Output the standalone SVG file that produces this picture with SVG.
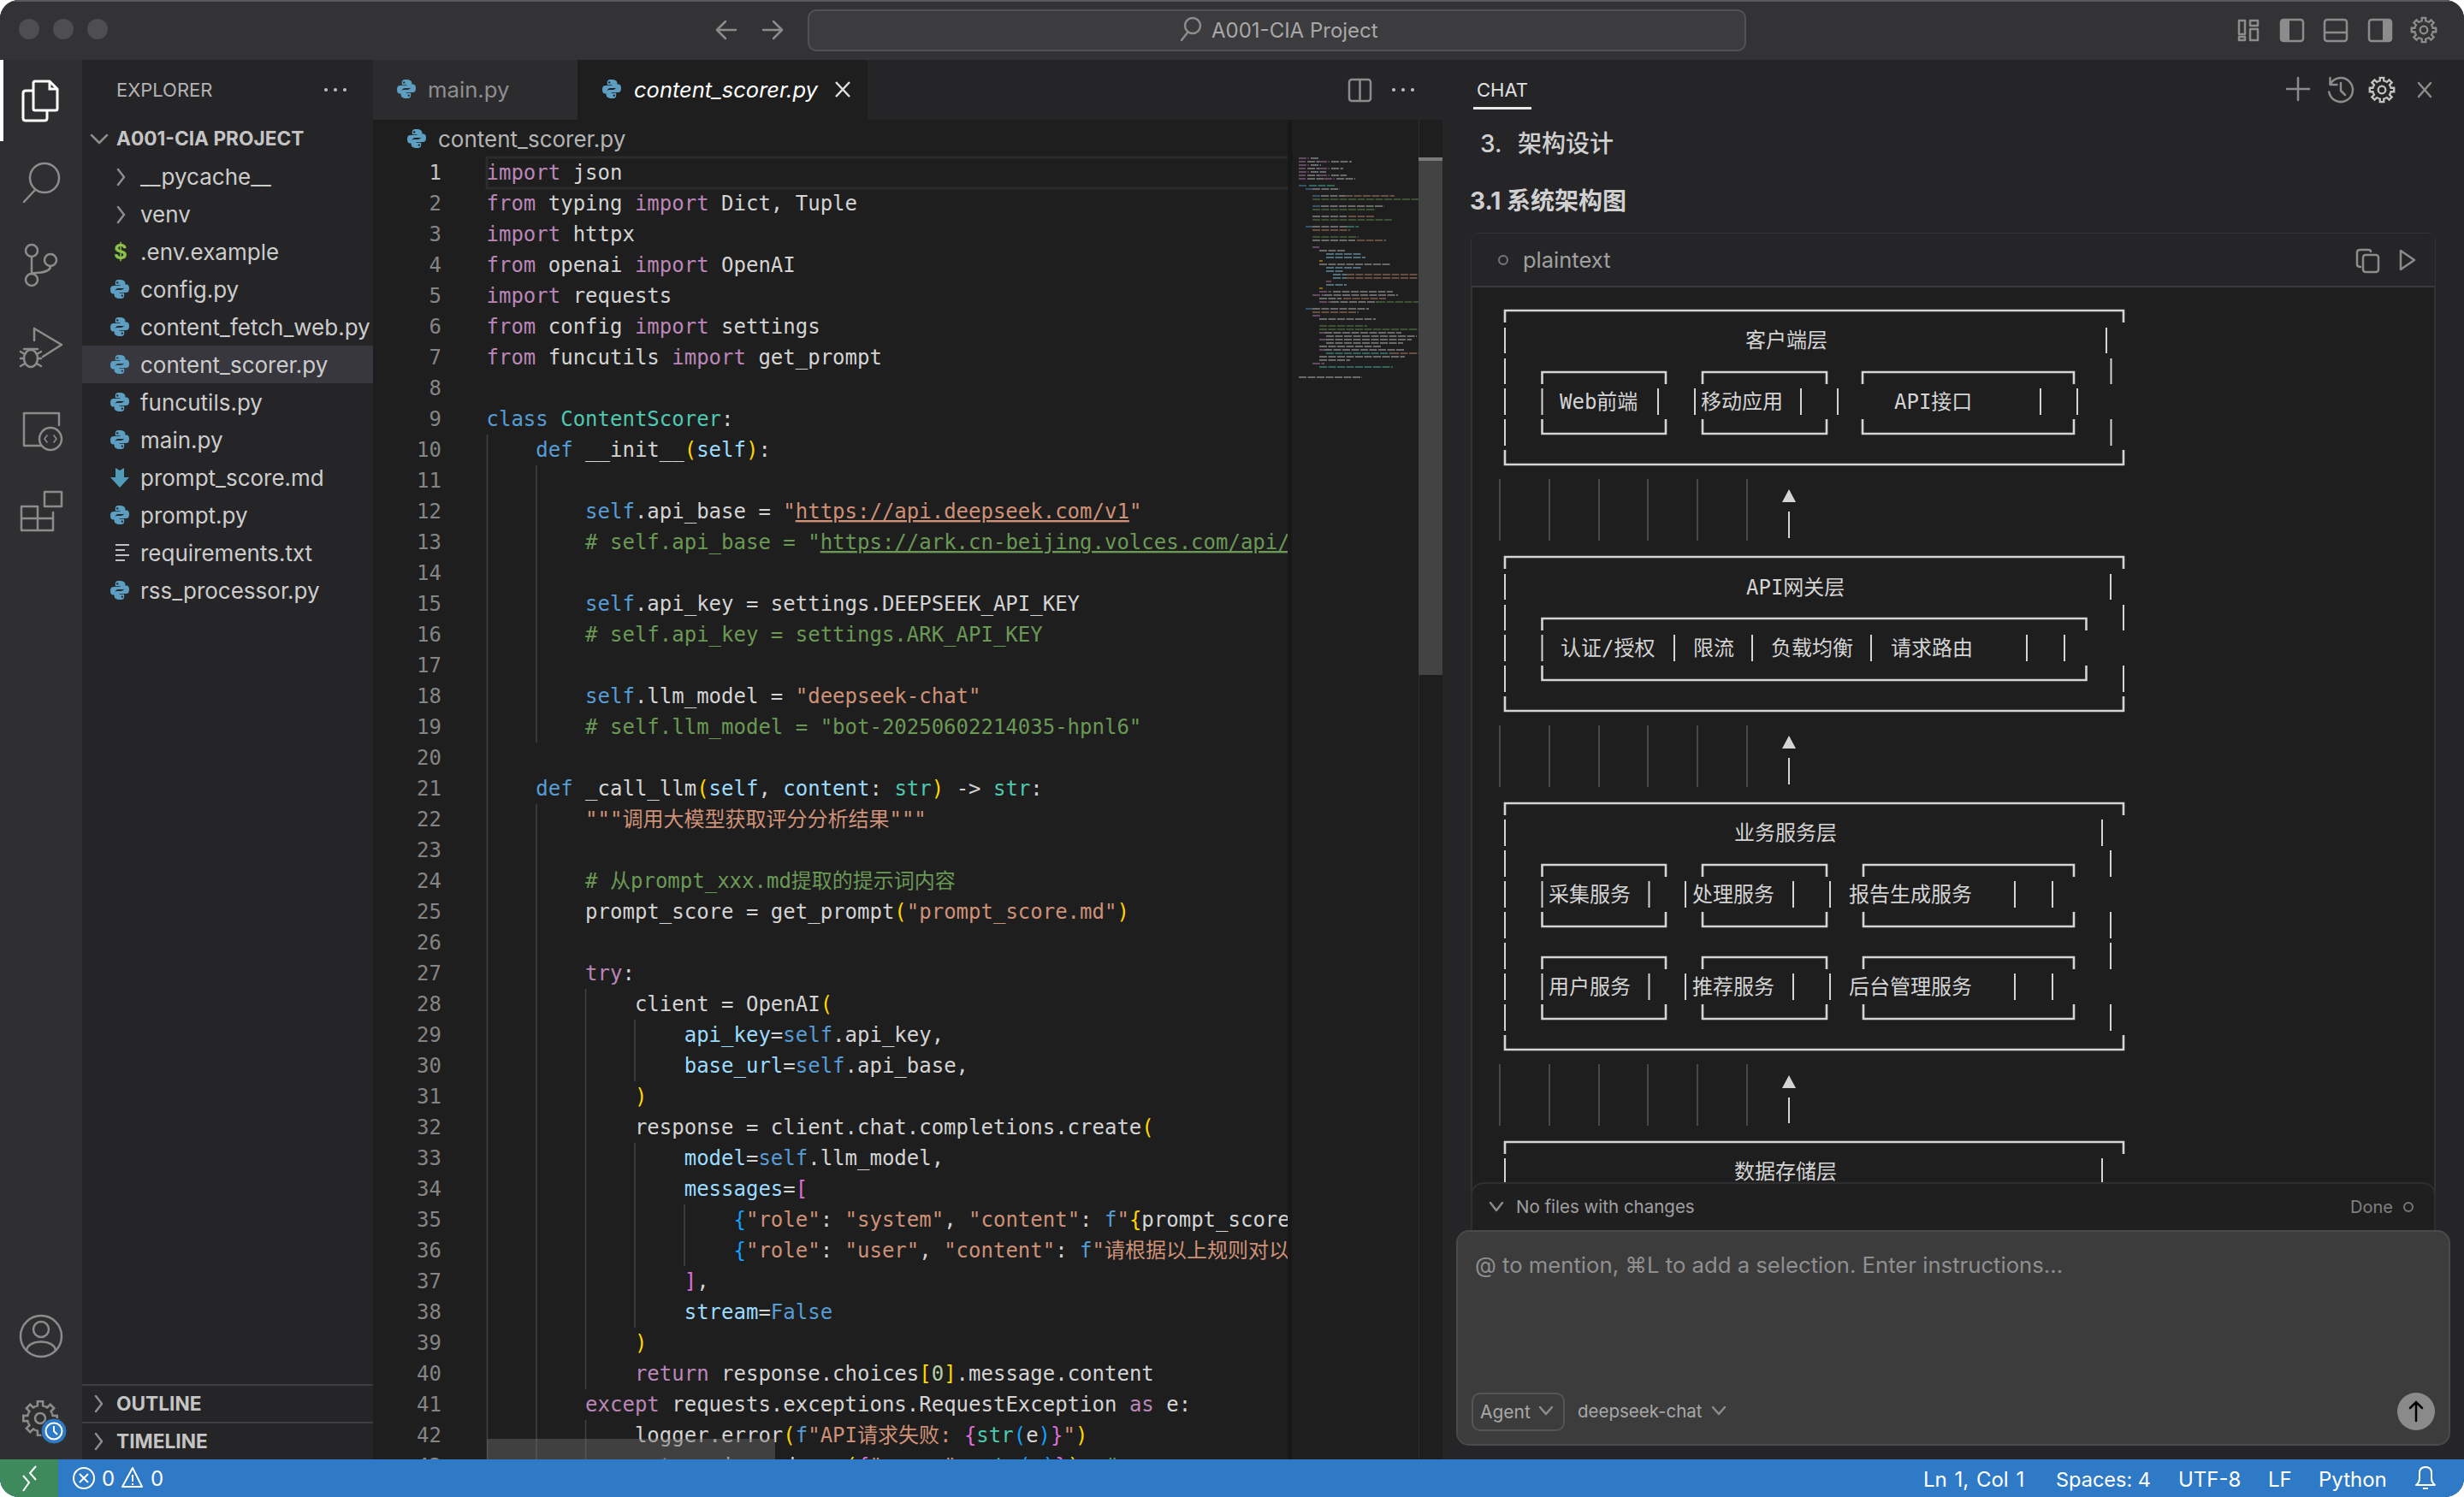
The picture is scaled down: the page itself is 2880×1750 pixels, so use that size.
<svg xmlns="http://www.w3.org/2000/svg" width="2880" height="1750" viewBox="0 0 2880 1750">
<style>
.ui{font-family:"Inter","Noto Sans CJK SC",sans-serif}
.f{font-family:"Inter",sans-serif;font-size:26px;fill:#cccccc}
.h{font-family:"Inter",sans-serif;font-size:22.700px;font-weight:700;fill:#c4c4c4}
.c{font-family:"DejaVu Sans Mono","Noto Sans CJK SC",monospace;font-size:24px;fill:#d4d4d4;white-space:pre}
.ln{font-family:"DejaVu Sans Mono",monospace;font-size:24px;fill:#858585;text-anchor:end}
.d{font-family:"DejaVu Sans Mono","Noto Sans CJK SC",monospace;font-size:24px;fill:#d4d4d4;white-space:pre}
.k{fill:#bb86b8}.b{fill:#569cd6}.t{fill:#4ec9b0}.v{fill:#9cdcfe}.s{fill:#ce9178}.g{fill:#6a9955}.y{fill:#ffd700}.p{fill:#da70d6}.u{fill:#179fff}.o{fill:#b5cea8}
.ic{fill:none;stroke:#8c8c8c;stroke-width:2.5;stroke-linecap:round;stroke-linejoin:round}
.ig{stroke:#404040;stroke-width:1.6;fill:none}
.v2{fill:none;stroke:#d4d4d4;stroke-width:2}
.h3{fill:none;stroke:#d4d4d4;stroke-width:2.6}
.fa{fill:none;stroke:#484848;stroke-width:2}
.st{font-family:"Inter",sans-serif;font-size:24px;fill:#ffffff}
.m{fill:none;stroke-width:1.8;opacity:.42;stroke-dasharray:9 1.500}
</style>
<defs>
<clipPath id="win"><rect width="2880" height="1750" rx="22"/></clipPath>
<clipPath id="ed"><rect x="436" y="180" width="1073" height="1526"/></clipPath>
<symbol id="py" viewBox="0 0 24 24" overflow="visible"><path id="pyh" fill="#5d9fc2" fill-rule="evenodd" d="M11.600 1C6.800 1 6.800 3 6.800 5v2.200h5.600V8H4.600C2 8 1 10 1 12.800s1 4.800 3.400 4.800h2.200v-2.900c0-2 1.800-3.600 3.800-3.600h4.800c1.800 0 3.200-1.400 3.200-3.200V5c0-2.200-2-4-6.800-4zM9.200 3.200a1.200 1.200 0 1 1 0 2.400 1.200 1.200 0 0 1 0-2.400z"/><use href="#pyh" transform="rotate(180 12 12)"/></symbol>
<g id="gear" fill="none"><circle r="6"/><path id="gt" d="M-5.740-13.860L-3.120-14.670-3.130-19.750H3.130L3.120-14.670 5.740-13.860"/><use href="#gt" transform="rotate(45)"/><use href="#gt" transform="rotate(90)"/><use href="#gt" transform="rotate(135)"/><use href="#gt" transform="rotate(180)"/><use href="#gt" transform="rotate(225)"/><use href="#gt" transform="rotate(270)"/><use href="#gt" transform="rotate(315)"/></g>
</defs>
<rect width="2880" height="1750" fill="#ffffff"/>
<g clip-path="url(#win)">
<rect width="2880" height="1750" fill="#1e1e1e"/>

<g id="titlebar">
<rect width="2880" height="70" fill="#333335"/>
<rect width="2880" height="2" fill="#5a5a5c"/>
<circle cx="34" cy="34" r="12" fill="#4e4e50"/><circle cx="74" cy="34" r="12" fill="#4e4e50"/><circle cx="114" cy="34" r="12" fill="#4e4e50"/>
<path class="ic" d="M860 35H838M848 25L838 35 848 45M892 35H914M904 25L914 35 904 45"/>
<rect x="945" y="12" width="1095" height="47" rx="9" fill="#3c3c3e" stroke="#525254" stroke-width="2"/>
<circle cx="1394" cy="30" r="9" class="ic"/><path class="ic" d="M1388 38L1381 47"/>
<text x="1416" y="44" class="ui" font-size="24" fill="#a8a8a8">A001-CIA Project</text>
<path class="ic" d="M2617 24h7v16h-7zM2617 43h7v4h-7zM2630 24h9v6h-9zM2630 34h9v13h-9z" stroke-width="2"/>
<rect x="2666" y="23" width="26" height="25" rx="3" class="ic"/><rect x="2667" y="24" width="9" height="23" fill="#8c8c8c"/>
<rect x="2717" y="23" width="26" height="25" rx="3" class="ic"/><path class="ic" d="M2717 38h26"/>
<rect x="2769" y="23" width="26" height="25" rx="3" class="ic"/><rect x="2785" y="24" width="9" height="23" fill="#8c8c8c"/>
<use href="#gear" transform="translate(2833 35) scale(.72)" stroke="#8c8c8c" stroke-width="3.200"/>
</g>

<g id="activitybar">
<rect y="70" width="96" height="1636" fill="#2f2f31"/>
<rect y="70" width="4" height="95" fill="#ffffff"/>
<path fill="#2f2f31" stroke="#ffffff" stroke-width="3" stroke-linejoin="round" d="M27 109q0-3 3-3h22q3 0 3 3v29q0 3-3 3H30q-3 0-3-3z"/>
<path fill="#2f2f31" stroke="#ffffff" stroke-width="3" stroke-linejoin="round" d="M39 97q0-2 2-2h17l9 9v23q0 2-2 2H41q-2 0-2-2z"/>
<path fill="none" stroke="#ffffff" stroke-width="3" d="M58 95v9h9"/>
<g class="ic"><circle cx="52" cy="208" r="17"/><path d="M41 222L28 236"/>
<circle cx="37" cy="293" r="7"/><circle cx="37" cy="327" r="7"/><circle cx="59" cy="304" r="7"/><path d="M37 300V320M59 311C59 321 37 318 37 320"/>
<path d="M40 384L72 403 50 417M40 384V398"/><ellipse cx="36" cy="419" rx="8" ry="10"/><path d="M24 411l5 3M24 419h4M24 428l5-3M48 411l-5 3M48 419h-4M48 428l-5-3M28 408h16"/>
<path d="M48 521H28V483H69V497M36 521h12"/><circle cx="59" cy="513" r="13"/><path d="M55 509l-3 4 3 4M63 509l3 4-3 4" stroke-width="1.600"/>
<path d="M25 592H44V620H25zM25 606H62M44 606V620H62V599M52 575H72V592H52z"/>
<circle cx="48" cy="1562" r="24"/><circle cx="48" cy="1554" r="9"/><path d="M31 1579C32 1565 64 1565 65 1579"/></g>
<use href="#gear" transform="translate(47 1658)" stroke="#8c8c8c" stroke-width="2.500"/>
<circle cx="63" cy="1673" r="15" fill="#2f7ac6" stroke="#2f2f31" stroke-width="1"/><circle cx="63" cy="1673" r="9.500" fill="none" stroke="#fff" stroke-width="2"/><path d="M63 1667v6l4 4" fill="none" stroke="#fff" stroke-width="2"/>
</g>

<g id="sidebar">
<rect x="96" y="70" width="340" height="1636" fill="#252527"/>
<rect x="96" y="404" width="340" height="44" fill="#37373d"/>
<text x="136" y="113" class="ui" font-size="22" fill="#b4b4b4">EXPLORER</text>
<circle cx="381" cy="105" r="2" fill="#c0c0c0"/><circle cx="392" cy="105" r="2" fill="#c0c0c0"/><circle cx="403" cy="105" r="2" fill="#c0c0c0"/>
<path class="ic" stroke="#b8b8b8" d="M107 158l9 9 9-9M138 198l7 9-7 9M138 242l7 9-7 9"/>
<text x="136" y="170" class="h">A001-CIA PROJECT</text>
<text x="164" y="216" class="f">__pycache__</text>
<text x="164" y="260" class="f">venv</text>
<text x="133" y="303" font-family="Inter,sans-serif" font-size="24" font-weight="700" fill="#8dc149">$</text>
<text x="164" y="304" class="f">.env.example</text>
<text x="164" y="348" class="f">config.py</text>
<text x="164" y="392" class="f">content_fetch_web.py</text>
<text x="164" y="436" class="f">content_scorer.py</text>
<text x="164" y="480" class="f">funcutils.py</text>
<text x="164" y="524" class="f">main.py</text>
<text x="164" y="568" class="f">prompt_score.md</text>
<text x="164" y="612" class="f">prompt.py</text>
<text x="164" y="656" class="f">requirements.txt</text>
<text x="164" y="700" class="f">rss_processor.py</text>
<use href="#py" x="128" y="326" width="24" height="24"/><use href="#py" x="128" y="370" width="24" height="24"/><use href="#py" x="128" y="414" width="24" height="24"/><use href="#py" x="128" y="458" width="24" height="24"/><use href="#py" x="128" y="502" width="24" height="24"/><use href="#py" x="128" y="590" width="24" height="24"/><use href="#py" x="128" y="678" width="24" height="24"/>
<path fill="#519aba" d="M135 547l5 3 5-3v11h6l-11 12-11-12h6z"/>
<path fill="none" stroke="#c0c0c0" stroke-width="2" d="M135 637h16M135 643h11M135 649h16M135 655h11"/>
<rect x="96" y="1618" width="340" height="2" fill="#3e3e40"/><rect x="96" y="1662" width="340" height="2" fill="#3e3e40"/>
<path class="ic" stroke="#b8b8b8" d="M112 1632l7 9-7 9M112 1676l7 9-7 9"/>
<text x="136" y="1649" class="h">OUTLINE</text>
<text x="136" y="1693" class="h">TIMELINE</text>
</g>

<g id="tabs">
<rect x="436" y="70" width="1250" height="70" fill="#252527"/>
<rect x="436" y="70" width="239" height="70" fill="#2c2c2e"/>
<rect x="675" y="70" width="339" height="70" fill="#1e1e1e"/>
<use href="#py" x="463" y="92" width="24" height="24"/>
<text x="500" y="114" class="ui" font-size="25.700" fill="#8f8f8f">main.py</text>
<use href="#py" x="703" y="92" width="24" height="24"/>
<text x="741" y="114" class="ui" font-size="25.500" font-style="italic" fill="#ffffff">content_scorer.py</text>
<path fill="none" stroke="#e0e0e0" stroke-width="2.500" d="M977 96l16 17M993 96l-16 17"/>
<rect x="1577" y="93" width="25" height="25" rx="3" class="ic" stroke="#c0c0c0"/><path class="ic" stroke="#c0c0c0" d="M1589.500 93v25"/>
<circle cx="1629" cy="105" r="2" fill="#c0c0c0"/><circle cx="1640" cy="105" r="2" fill="#c0c0c0"/><circle cx="1651" cy="105" r="2" fill="#c0c0c0"/>
<use href="#py" x="475" y="150" width="24" height="24"/>
<text x="512" y="172" class="ui" font-size="26" fill="#b4b4b4">content_scorer.py</text>
</g>

<g id="editor">
<rect x="569" y="184" width="940" height="36" fill="none" stroke="#2c2c2c" stroke-width="3"/>
<path class="ig" d="M569.500 508V1706M627 544V868M627 940V1706M684.600 1156V1624M684.600 1660V1706M742 1192V1264M742 1336V1552M800 1408V1480"/>
<g class="ln" transform="translate(0 1)">
<text x="516" y="209" style="fill:#c6c6c6">1</text><text x="516" y="245">2</text><text x="516" y="281">3</text><text x="516" y="317">4</text><text x="516" y="353">5</text><text x="516" y="389">6</text><text x="516" y="425">7</text><text x="516" y="461">8</text><text x="516" y="497">9</text><text x="516" y="533">10</text><text x="516" y="569">11</text><text x="516" y="605">12</text><text x="516" y="641">13</text><text x="516" y="677">14</text><text x="516" y="713">15</text><text x="516" y="749">16</text><text x="516" y="785">17</text><text x="516" y="821">18</text><text x="516" y="857">19</text><text x="516" y="893">20</text><text x="516" y="929">21</text><text x="516" y="965">22</text><text x="516" y="1001">23</text><text x="516" y="1037">24</text><text x="516" y="1073">25</text><text x="516" y="1109">26</text><text x="516" y="1145">27</text><text x="516" y="1181">28</text><text x="516" y="1217">29</text><text x="516" y="1253">30</text><text x="516" y="1289">31</text><text x="516" y="1325">32</text><text x="516" y="1361">33</text><text x="516" y="1397">34</text><text x="516" y="1433">35</text><text x="516" y="1469">36</text><text x="516" y="1505">37</text><text x="516" y="1541">38</text><text x="516" y="1577">39</text><text x="516" y="1613">40</text><text x="516" y="1649">41</text><text x="516" y="1685">42</text><text x="516" y="1721">43</text>
</g>
<g clip-path="url(#ed)"><g transform="translate(-1 1)">
<text x="569.500" y="209" class="c"><tspan class="k">import</tspan> json</text>
<text x="569.500" y="245" class="c"><tspan class="k">from</tspan> typing <tspan class="k">import</tspan> Dict, Tuple</text>
<text x="569.500" y="281" class="c"><tspan class="k">import</tspan> httpx</text>
<text x="569.500" y="317" class="c"><tspan class="k">from</tspan> openai <tspan class="k">import</tspan> OpenAI</text>
<text x="569.500" y="353" class="c"><tspan class="k">import</tspan> requests</text>
<text x="569.500" y="389" class="c"><tspan class="k">from</tspan> config <tspan class="k">import</tspan> settings</text>
<text x="569.500" y="425" class="c"><tspan class="k">from</tspan> funcutils <tspan class="k">import</tspan> get_prompt</text>
<text x="569.500" y="497" class="c"><tspan class="b">class</tspan> <tspan class="t">ContentScorer</tspan>:</text>
<text x="569.500" y="533" class="c">    <tspan class="b">def</tspan> __init__<tspan class="y">(</tspan><tspan class="v">self</tspan><tspan class="y">)</tspan>:</text>
<text x="569.500" y="605" class="c">        <tspan class="b">self</tspan>.api_base = <tspan class="s">"<tspan text-decoration="underline">https://api.deepseek.com/v1</tspan>"</tspan></text>
<text x="569.500" y="641" class="c g">        # self.api_base = "<tspan text-decoration="underline">https://ark.cn-beijing.volces.com/api/</tspan></text>
<text x="569.500" y="713" class="c">        <tspan class="b">self</tspan>.api_key = settings.DEEPSEEK_API_KEY</text>
<text x="569.500" y="749" class="c g">        # self.api_key = settings.ARK_API_KEY</text>
<text x="569.500" y="821" class="c">        <tspan class="b">self</tspan>.llm_model = <tspan class="s">"deepseek-chat"</tspan></text>
<text x="569.500" y="857" class="c g">        # self.llm_model = "bot-20250602214035-hpnl6"</text>
<text x="569.500" y="929" class="c">    <tspan class="b">def</tspan> _call_llm<tspan class="y">(</tspan><tspan class="v">self</tspan>, <tspan class="v">content</tspan>: <tspan class="t">str</tspan><tspan class="y">)</tspan> -&gt; <tspan class="t">str</tspan>:</text>
<text x="569.500" y="965" class="c s">        """调用大模型获取评分分析结果"""</text>
<text x="569.500" y="1037" class="c g">        # 从prompt_xxx.md提取的提示词内容</text>
<text x="569.500" y="1073" class="c">        prompt_score = get_prompt<tspan class="y">(</tspan><tspan class="s">"prompt_score.md"</tspan><tspan class="y">)</tspan></text>
<text x="569.500" y="1145" class="c">        <tspan class="k">try</tspan>:</text>
<text x="569.500" y="1181" class="c">            client = OpenAI<tspan class="y">(</tspan></text>
<text x="569.500" y="1217" class="c">                <tspan class="v">api_key</tspan>=<tspan class="b">self</tspan>.api_key,</text>
<text x="569.500" y="1253" class="c">                <tspan class="v">base_url</tspan>=<tspan class="b">self</tspan>.api_base,</text>
<text x="569.500" y="1289" class="c y">            )</text>
<text x="569.500" y="1325" class="c">            response = client.chat.completions.create<tspan class="y">(</tspan></text>
<text x="569.500" y="1361" class="c">                <tspan class="v">model</tspan>=<tspan class="b">self</tspan>.llm_model,</text>
<text x="569.500" y="1397" class="c">                <tspan class="v">messages</tspan>=<tspan class="p">[</tspan></text>
<text x="569.500" y="1433" class="c">                    <tspan class="u">{</tspan><tspan class="s">"role"</tspan>: <tspan class="s">"system"</tspan>, <tspan class="s">"content"</tspan>: <tspan class="b">f</tspan><tspan class="s">"</tspan><tspan class="y">{</tspan>prompt_score</text>
<text x="569.500" y="1469" class="c">                    <tspan class="u">{</tspan><tspan class="s">"role"</tspan>: <tspan class="s">"user"</tspan>, <tspan class="s">"content"</tspan>: <tspan class="b">f</tspan><tspan class="s">"请根据以上规则对以</tspan></text>
<text x="569.500" y="1505" class="c">                <tspan class="p">]</tspan>,</text>
<text x="569.500" y="1541" class="c">                <tspan class="v">stream</tspan>=<tspan class="b">False</tspan></text>
<text x="569.500" y="1577" class="c y">            )</text>
<text x="569.500" y="1613" class="c">            <tspan class="k">return</tspan> response.choices<tspan class="y">[</tspan><tspan class="o">0</tspan><tspan class="y">]</tspan>.message.content</text>
<text x="569.500" y="1649" class="c">        <tspan class="k">except</tspan> requests.exceptions.RequestException <tspan class="k">as</tspan> e:</text>
<text x="569.500" y="1685" class="c">            logger.error<tspan class="y">(</tspan><tspan class="b">f</tspan><tspan class="s">"API请求失败: </tspan><tspan class="p">{</tspan><tspan class="t">str</tspan><tspan class="u">(</tspan>e<tspan class="u">)</tspan><tspan class="p">}</tspan><tspan class="s">"</tspan><tspan class="y">)</tspan></text>
<text x="569.500" y="1721" class="c">            <tspan class="k">return</tspan> json.dumps<tspan class="y">(</tspan><tspan class="p">{</tspan><tspan class="s">"error"</tspan>: <tspan class="t">str</tspan><tspan class="u">(</tspan>e<tspan class="u">)</tspan><tspan class="p">}</tspan><tspan class="y">)</tspan>  <tspan class="g">#</tspan></text>
</g></g>
<rect x="569" y="1682" width="337" height="24" fill="#6a6a6a" fill-opacity=".45"/>
</g>

<g id="minimap">
<rect x="1509" y="140" width="149" height="1566" fill="#1e1e1e"/>
<rect x="1505" y="140" width="5" height="1566" fill="#181818"/>
<path class="m" stroke="#c586c0" d="M1518 185h12M1518 189h8M1542 189h12M1518 193h12M1518 197h8M1542 197h12M1518 201h12M1518 205h8M1542 205h12M1518 209h8M1548 209h12M1534 289h8M1550 329h6M1542 341h14M1534 345h14M1542 353h14M1534 369h10M1542 389h6M1542 397h8M1542 409h6M1534 425h14"/>
<path class="m" stroke="#d4d4d4" d="M1532 185h10M1528 189h14M1556 189h24M1532 193h12M1528 197h14M1556 197h14M1532 201h18M1528 205h14M1556 205h18M1528 209h20M1562 209h22M1534 221h32M1544 229h28M1544 241h74M1534 253h40M1534 265h40M1534 281h50M1542 293h30M1542 309h84M1558 341h70M1548 345h86M1542 349h26M1556 353h54M1534 361h66M1542 373h66M1548 389h90M1550 393h106M1550 397h100M1550 401h90M1542 405h72M1548 409h94M1542 417h100M1542 421h36M1518 441h74"/>
<path class="m" stroke="#569cd6" d="M1518 217h10M1526 221h8M1534 229h10M1534 241h10M1526 265h8M1526 361h8"/>
<path class="m" stroke="#4ec9b0" d="M1530 217h30M1574 265h14M1550 413h76M1542 429h86"/>
<path class="m" stroke="#9cdcfe" d="M1550 297h42M1550 301h46M1550 313h42M1550 317h20M1550 333h24M1558 321h16M1558 325h16"/>
<path class="m" stroke="#ce9178" d="M1572 229h58M1576 253h30M1534 269h44M1586 281h34M1574 321h84M1574 325h84M1570 349h50M1534 365h54M1626 413h32"/>
<path class="m" stroke="#6a9955" d="M1534 233h124M1534 245h74M1534 257h94M1534 277h54M1610 353h48M1542 381h56M1542 385h116"/>
<path class="m" stroke="#ffd700" d="M1542 305h4M1542 337h4"/>
</g>

<g id="scrollbar">
<rect x="1658" y="140" width="28" height="1566" fill="#1e1e1e"/>
<rect x="1658" y="140" width="1" height="1566" fill="#2e2e2e"/>
<rect x="1658" y="184" width="28" height="605" fill="#434343"/>
<rect x="1658" y="184" width="28" height="4" fill="#7a7a7a"/>
</g>

<g id="chat">
<rect x="1686" y="70" width="1194" height="1636" fill="#252527"/>
<text x="1726" y="113" class="ui" font-size="22" fill="#e0e0e0">CHAT</text>
<rect x="1722" y="125" width="68" height="3" fill="#e8e8e8"/>
<path class="ic" stroke="#c4c4c4" d="M2686 91v26M2673 104h26"/>
<path class="ic" stroke="#c4c4c4" d="M2723.500 98.700A14 14 0 1 1 2722.200 107.500M2723.500 91v8h8M2736 97v9l5 5"/>
<use href="#gear" transform="translate(2784 105) scale(.72)" stroke="#c4c4c4" stroke-width="3.200"/>
<path class="ic" stroke="#c4c4c4" d="M2827 97l14 16M2841 97l-14 16"/>
<text x="1730" y="178" class="ui" font-size="28" font-weight="500" fill="#d0d0d0">3.</text>
<text x="1774" y="178" class="ui" font-size="28" font-weight="500" fill="#d0d0d0">架构设计</text>
<text x="1718" y="245" class="ui" font-size="28" font-weight="700" fill="#d0d0d0">3.1 系统架构图</text>
<rect x="1720" y="273" width="1126" height="1130" rx="8" fill="#1e1e1e" stroke="#333335" stroke-width="2"/>
<path d="M1720 335V281q0-8 8-8H2838q8 0 8 8V335z" fill="#252527"/>
<rect x="1720" y="334" width="1126" height="2" fill="#3a3a3c"/>
<circle cx="1757" cy="304" r="5" fill="none" stroke="#777" stroke-width="2"/>
<text x="1780" y="313" class="ui" font-size="25.500" fill="#a0a0a0">plaintext</text>
<path class="ic" stroke-width="2" d="M2759 312q-4 0-4-3v-14q0-3 4-3h9q3 0 3 2"/><rect x="2762" y="298" width="18" height="20" rx="3" class="ic" stroke-width="2"/>
<path class="ic" stroke-width="2" d="M2806 293l16 11-16 11z"/>
</g>

<g id="connectors">
<path class="fa" d="M1753 560V632M1811 560V632M1869 560V632M1926 560V632M1984 560V632M2042 560V632M1753 848V920M1811 848V920M1869 848V920M1926 848V920M1984 848V920M2042 848V920M1753 1244V1316M1811 1244V1316M1869 1244V1316M1926 1244V1316M1984 1244V1316M2042 1244V1316"/>
<path class="v2" d="M2091 598V629M2091 886V917M2091 1283V1313"/>
<path fill="#d4d4d4" d="M2091 572l8 15h-16zM2091 860l8 15h-16zM2091 1257l8 15h-16z"/>
</g>

<g id="client-layer">
<path class="h3" d="M1759 377V363H2482V377M1759 526V543H2482V526M1802.500 449V435H1947V449M1990 449V435H2135V449M2177 449V435H2424V449M1802.500 490V507H1947V490M1990 490V507H2135V490M2177 490V507H2424V490"/>
<path class="v2" d="M1759 383V413M1759 419V449M1759 454V485M1759 490V521M2462 383V413M2467.500 419V449M2467.500 490V521M1802.500 454V485M1938 454V485M1981 454V485M2105 454V485M2148 454V485M2385 454V485M2428 454V485"/>
<text x="2040" y="406" class="d">客户端层</text>
<text x="1823" y="478" class="d">Web前端</text>
<text x="1988" y="478" class="d">移动应用</text>
<text x="2214" y="478" class="d">API接口</text>
</g>

<g id="gateway-layer">
<path class="h3" d="M1759 665V651H2482V665M1759 814V831H2482V814M1802.500 737V723H2438.500V737M1802.500 778V795H2438.500V778"/>
<path class="v2" d="M1759 671V701M1759 707V737M1759 742V773M1759 778V809M2467 671V701M2482 707V737M2482 778V809M1802.500 742V773M1957 742V773M2048 742V773M2187 742V773M2369 742V773M2413 742V773"/>
<text x="2041" y="695" class="d">API网关层</text>
<text x="1824" y="766" class="d">认证/授权</text>
<text x="1979" y="766" class="d">限流</text>
<text x="2070" y="766" class="d">负载均衡</text>
<text x="2210" y="766" class="d">请求路由</text>
</g>

<g id="service-layer">
<path class="h3" d="M1759 953V939H2482V953M1759 1210V1227H2482V1210M1802.500 1025V1011H1947V1025M1990 1025V1011H2135V1025M2178 1025V1011H2424V1025M1802.500 1066V1083H1947V1066M1990 1066V1083H2135V1066M2178 1066V1083H2424V1066M1802.500 1133V1119H1947V1133M1990 1133V1119H2135V1133M2178 1133V1119H2424V1133M1802.500 1174V1191H1947V1174M1990 1174V1191H2135V1174M2178 1174V1191H2424V1174"/>
<path class="v2" d="M1759 958V989M1759 994V1025M1759 1030V1061M1759 1066V1097M1759 1102V1133M1759 1138V1169M1759 1174V1205M2457 958V989M2467 994V1025M2467 1066V1097M2467 1102V1133M2467 1174V1205M1802.500 1030V1061M1927.500 1030V1061M1970 1030V1061M2096 1030V1061M2139 1030V1061M2355 1030V1061M2399 1030V1061M1802.500 1138V1169M1927.500 1138V1169M1970 1138V1169M2096 1138V1169M2139 1138V1169M2355 1138V1169M2399 1138V1169"/>
<text x="2027" y="982" class="d">业务服务层</text>
<text x="1810" y="1054" class="d">采集服务</text>
<text x="1978" y="1054" class="d">处理服务</text>
<text x="2161" y="1054" class="d">报告生成服务</text>
<text x="1810" y="1162" class="d">用户服务</text>
<text x="1978" y="1162" class="d">推荐服务</text>
<text x="2161" y="1162" class="d">后台管理服务</text>
</g>

<g id="storage-layer">
<path class="h3" d="M1759 1349V1335H2482V1349"/>
<path class="v2" d="M1759 1354V1384M2457 1354V1384"/>
<text x="2027" y="1378" class="d">数据存储层</text>
</g>

<g id="chat-input">
<path d="M1720 1460V1399q0-16 16-16H2830q16 0 16 16V1460z" fill="#1f1f20" stroke="#2e2e30" stroke-width="2"/>
<path class="ic" stroke-width="2" stroke="#a0a0a0" d="M1742 1406l7 9 7-9"/>
<text x="1772" y="1418" class="ui" font-size="20.500" fill="#a0a0a0">No files with changes</text>
<text x="2747" y="1418" class="ui" font-size="20" fill="#808080">Done</text>
<circle cx="2815" cy="1411" r="5" fill="none" stroke="#777" stroke-width="2"/>
<rect x="1703" y="1439" width="1160" height="250" rx="14" fill="#3c3c3c" stroke="#4a4a4a" stroke-width="2"/>
<text x="1724" y="1488" class="ui" font-size="25.700" fill="#8f8f8f">@ to mention, ⌘L to add a selection. Enter instructions...</text>
<rect x="1721" y="1629" width="107" height="43" rx="9" fill="none" stroke="#555557" stroke-width="2"/>
<text x="1730" y="1658" class="ui" font-size="21" fill="#a8a8a8">Agent</text>
<path class="ic" stroke-width="2" stroke="#b0b0b0" d="M1800 1645l7 8 7-8"/>
<text x="1844" y="1657" class="ui" font-size="20.500" fill="#a8a8a8">deepseek-chat</text>
<path class="ic" stroke-width="2" stroke="#b0b0b0" d="M2002 1645l7 8 7-8"/>
<circle cx="2824" cy="1650" r="22" fill="#8a8a8a"/>
<path fill="none" stroke="#000" stroke-width="2.500" stroke-linecap="round" d="M2824 1661V1639M2817 1646l7-7 7 7"/>
</g>

<g id="statusbar">
<rect y="1706" width="2880" height="44" fill="#2f7ac6"/>
<rect y="1706" width="68" height="44" fill="#3f8a5c"/>
<path fill="none" stroke="#fff" stroke-width="2" d="M27 1725l7 8-7 10M42 1714l-7 8 7 8"/>
<circle cx="98" cy="1728" r="12" fill="none" stroke="#fff" stroke-width="2"/><path fill="none" stroke="#fff" stroke-width="2" d="M93 1723l10 10M103 1723l-10 10"/>
<text x="119" y="1737" class="st">0</text>
<path fill="none" stroke="#fff" stroke-width="2" stroke-linejoin="round" d="M155 1716l11 22h-23zM155 1724v8M155 1734v2"/>
<text x="176" y="1737" class="st">0</text>
<text x="2248" y="1738" class="st" word-spacing="2">Ln 1, Col 1</text>
<text x="2403" y="1738" class="st" style="font-size:23.500px">Spaces: 4</text>
<text x="2546" y="1738" class="st">UTF-8</text>
<text x="2651" y="1738" class="st">LF</text>
<text x="2710" y="1738" class="st">Python</text>
<path fill="none" stroke="#fff" stroke-width="2" stroke-linejoin="round" d="M2824 1736q4-3 4-8v-6q0-7 7-7t7 7v6q0 5 4 8zM2832 1740h6"/>
</g>
</g>
</svg>
